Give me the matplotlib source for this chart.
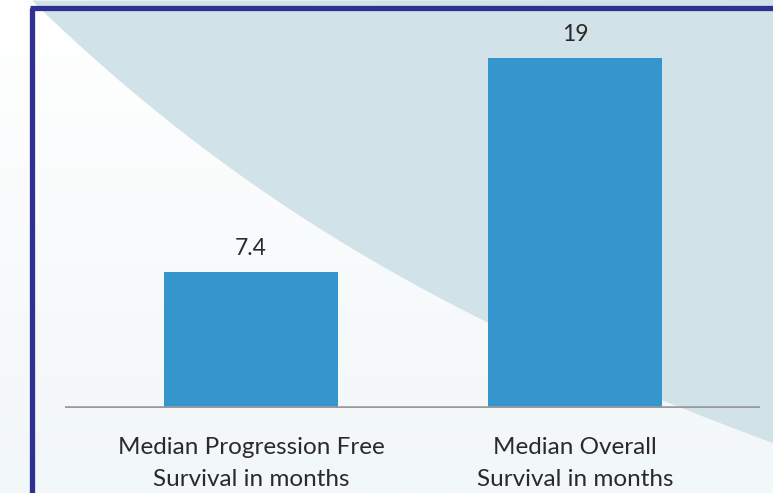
import numpy as np
import matplotlib.pyplot as plt
from matplotlib.patches import Polygon

# chart data
categories = ["Median Progression Free\nSurvival in months",
              "Median Overall\nSurvival in months"]
values = [7.4, 19]
value_labels = ["7.4", "19"]

W, H = 773, 493
BAR_COLOR = "#3596ce"
SHADE = "#d1e3e8"
FRAME = "#2e3192"
TEXT = "#2a2a2a"

plt.rcParams['font.family'] = ['Lato', 'DejaVu Sans']

fig = plt.figure(figsize=(W / 100, H / 100), dpi=100)

# background: light vertical gradient + curved shaded band (pixel coords)
bg = fig.add_axes([0, 0, 1, 1])
bg.set_xlim(0, W)
bg.set_ylim(H, 0)
bg.axis("off")
grad = np.linspace(0, 1, 256).reshape(-1, 1)
top_c = np.array([1.0, 1.0, 1.0])
bot_c = np.array([0xf2, 0xf7, 0xf9]) / 255
img = top_c + grad[..., None] * (bot_c - top_c)
bg.imshow(img, extent=[0, W, H, 0], aspect="auto", zorder=0)

# decorative curve edge
cx = np.array([32, 150, 217, 283, 330, 400, 487, 663, 773])
cy = np.array([0, 107, 158, 207, 235, 273, 322, 403, 442])
coef = np.polyfit(cx, cy, 3)
xs = np.linspace(32, W, 200)
ys = np.polyval(coef, xs)
pts = np.vstack([np.column_stack([xs, ys]), [[W, 0]]])
bg.add_patch(Polygon(pts, closed=True, facecolor=SHADE, edgecolor="none", zorder=1))

# frame on left and top
bg.plot([31.5, 31.5], [7.5, H + 5], color=FRAME, lw=3.8, solid_capstyle="butt", zorder=3)
bg.plot([29.6, W + 5], [7.5, 7.5], color=FRAME, lw=3.8, solid_capstyle="butt", zorder=3)

# main bar axes
left, right = 65, 760
base_y = 408
ymax = 20
px_per_unit = 350 / 19
ax_h = ymax * px_per_unit
ax = fig.add_axes([left / W, (H - base_y) / H, (right - left) / W, ax_h / H])
ax.patch.set_alpha(0)

x = np.arange(len(values))
ax.bar(x, values, width=0.537, color=BAR_COLOR, zorder=2)
ax.axhline(0, color="#9a9a9a", lw=2.6, zorder=3)
ax.set_xlim(-0.574, 1.571)
ax.set_ylim(0, ymax)

for xi, v, lab in zip(x, values, value_labels):
    ax.annotate(lab, (xi, v), xytext=(0, 13), textcoords="offset pixels",
                ha="center", va="bottom", fontsize=16.5, color=TEXT)

ax.set_xticks(x)
ax.set_xticklabels(categories, fontsize=17.5, color=TEXT, linespacing=1.62)
ax.tick_params(axis="x", length=0, pad=21)
ax.set_yticks([])
for s in ax.spines.values():
    s.set_visible(False)

fig.savefig("out.png", dpi=100)
